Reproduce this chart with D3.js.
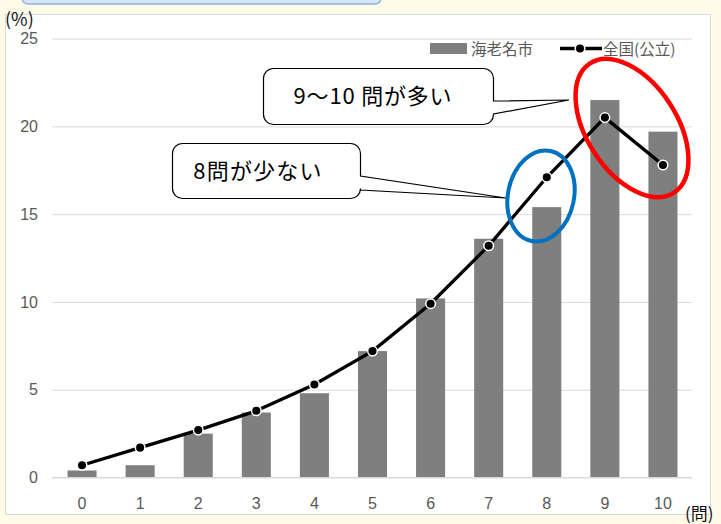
<!DOCTYPE html>
<html><head><meta charset="utf-8">
<script src="https://cdn.jsdelivr.net/npm/d3@7"></script>
<style>
html,body{margin:0;padding:0;background:#fefce9;}
svg{display:block;}
</style></head>
<body>
<svg id="chart" width="721" height="524"></svg>
<script>
const categories = ["0","1","2","3","4","5","6","7","8","9","10"];
const ebinaValues = [0.4, 0.7, 2.5, 3.7, 4.8, 7.2, 10.2, 13.6, 15.4, 21.5, 19.7];
const nationalValues = [0.7, 1.7, 2.7, 3.8, 5.3, 7.2, 9.9, 13.2, 17.1, 20.5, 17.8];
const yTicks = [0, 5, 10, 15, 20, 25];
const seriesNames = ["海老名市", "全国(公立)"];
const yUnit = "(%)";
const xUnit = "(問)";
const callout1 = "9～10 問が多い";
const callout2 = "8問が少ない";

const svg = d3.select("#chart");
const tickFont = "'Liberation Sans Narrow','Liberation Sans',Arial,sans-serif";
const jpFont = "'Noto Sans CJK JP','Noto Sans',sans-serif";

// top blue tab
svg.append("rect").attr("x",22).attr("y",-12).attr("width",359).attr("height",16)
  .attr("rx",6).attr("fill","#d6e6f6").attr("stroke","#8fb2da").attr("stroke-width",1.5);

// panel
svg.append("rect").attr("x",5.5).attr("y",14.5).attr("width",705).attr("height",500)
  .attr("fill","#ffffff").attr("stroke","#d9d9d9").attr("stroke-width",1);

const x = d3.scaleBand().domain(categories).range([53, 692]).paddingInner(0.5).paddingOuter(0.25);
const y = d3.scaleLinear().domain([0, 25]).range([477.5, 38.6]);

// gridlines
const yAxis = d3.axisLeft(y).tickValues(yTicks).tickSize(-(692-52)).tickPadding(14);
const gy = svg.append("g").attr("transform","translate(52,0)").call(yAxis);
gy.select(".domain").remove();
gy.selectAll(".tick line").attr("stroke","#d9d9d9").attr("stroke-width",1);
gy.selectAll(".tick text").attr("fill","#595959").attr("font-size",16).attr("font-family",tickFont);

// x axis
const xAxis = d3.axisBottom(x).tickSize(0).tickPadding(20);
const gx = svg.append("g").attr("transform",`translate(0,${y(0)})`).call(xAxis);
gx.select(".domain").remove();
gx.selectAll(".tick text").attr("fill","#595959").attr("font-size",16).attr("font-family",tickFont);

// bars
svg.append("g").selectAll("rect").data(ebinaValues).join("rect")
  .attr("x",(d,i)=>x(categories[i])).attr("width",x.bandwidth())
  .attr("y",d=>y(d)).attr("height",d=>y(0)-y(d)).attr("fill","#7f7f7f");

// baseline
svg.append("line").attr("x1",52).attr("x2",692).attr("y1",y(0)).attr("y2",y(0))
  .attr("stroke","#d9d9d9").attr("stroke-width",1);

// line
const cx = (i)=>x(categories[i]) + x.bandwidth()/2;
const line = d3.line().x((d,i)=>cx(i)).y(d=>y(d));
svg.append("path").datum(nationalValues).attr("d",line).attr("fill","none")
  .attr("stroke","#000").attr("stroke-width",3.3);
svg.append("g").selectAll("circle").data(nationalValues).join("circle")
  .attr("cx",(d,i)=>cx(i)).attr("cy",d=>y(d)).attr("r",4.8)
  .attr("fill","#000").attr("stroke","#ffffff").attr("stroke-width",1.5);

// unit labels
svg.append("text").attr("x",5).attr("y",26).text(yUnit)
  .attr("font-size",18).attr("font-family",jpFont).attr("fill","#111");
svg.append("text").attr("x",685).attr("y",520).text(xUnit)
  .attr("font-size",17).attr("font-family",jpFont).attr("fill","#111");

// legend
const lg = svg.append("g");
lg.append("rect").attr("x",430).attr("y",43).attr("width",37).attr("height",11).attr("fill","#7f7f7f");
lg.append("text").attr("x",471).attr("y",55).text(seriesNames[0])
  .attr("font-size",15.5).attr("font-family",jpFont).attr("fill","#595959");
lg.append("line").attr("x1",560).attr("x2",602).attr("y1",48.5).attr("y2",48.5)
  .attr("stroke","#000").attr("stroke-width",3.3);
lg.append("circle").attr("cx",580).attr("cy",48.5).attr("r",4.8).attr("fill","#000")
  .attr("stroke","#fff").attr("stroke-width",1.5);
lg.append("text").attr("x",603).attr("y",55).text(seriesNames[1])
  .attr("font-size",15.5).attr("font-family",jpFont).attr("fill","#595959");

// ellipses
const iBlue = 8, iRed = 9;
svg.append("ellipse").attr("cx",541).attr("cy",196).attr("rx",33).attr("ry",46)
  .attr("transform","rotate(12,541,196)")
  .attr("fill","none").attr("stroke","#0070c0").attr("stroke-width",4);
svg.append("ellipse").attr("cx",632).attr("cy",128).attr("rx",77).attr("ry",45)
  .attr("transform","rotate(57,632,128)")
  .attr("fill","none").attr("stroke","#ff0000").attr("stroke-width",4.5);

// callouts
function callout(x0,y0,x1,y1,r,ty1,ty2,tipX,tipY){
  const p = d3.path();
  p.moveTo(x0+r,y0);
  p.lineTo(x1-r,y0);
  p.arcTo(x1,y0,x1,y0+r,r);
  p.lineTo(x1,ty1);
  p.lineTo(tipX,tipY);
  p.lineTo(x1,ty2);
  p.lineTo(x1,y1-r);
  p.arcTo(x1,y1,x1-r,y1,r);
  p.lineTo(x0+r,y1);
  p.arcTo(x0,y1,x0,y1-r,r);
  p.lineTo(x0,y0+r);
  p.arcTo(x0,y0,x0+r,y0,r);
  p.closePath();
  return p.toString();
}
svg.append("path").attr("d",callout(263.5,68.5,493.5,124.5,10,101,114,cx(iRed)-36,100))
  .attr("fill","#fff").attr("stroke","#000").attr("stroke-width",1.2);
svg.append("text").attr("x",373).attr("y",104).attr("text-anchor","middle").text(callout1)
  .attr("font-size",22).attr("letter-spacing",0.8).attr("font-family",jpFont).attr("fill","#000");
svg.append("path").attr("d",callout(172.5,143.5,360.5,198.5,10,176,190,cx(iBlue)-41,198))
  .attr("fill","#fff").attr("stroke","#000").attr("stroke-width",1.2);
svg.append("text").attr("x",258).attr("y",179).attr("text-anchor","middle").text(callout2)
  .attr("font-size",22).attr("letter-spacing",1.2).attr("font-family",jpFont).attr("fill","#000");
</script>
</body></html>
